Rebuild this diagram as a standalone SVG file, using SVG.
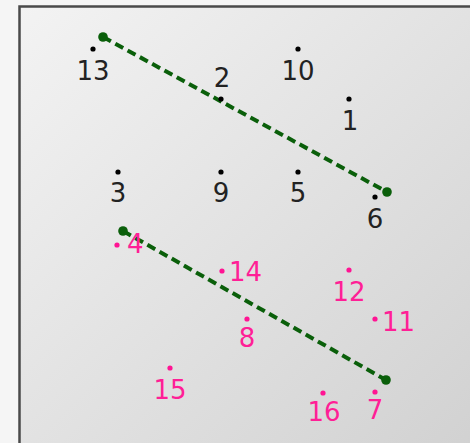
<svg xmlns="http://www.w3.org/2000/svg" width="470" height="443" viewBox="0 0 470 443">
<defs>
<linearGradient id="bg" x1="0" y1="0" x2="1" y2="1">
<stop offset="0" stop-color="#f3f3f3"/>
<stop offset="1" stop-color="#d0d0d0"/>
</linearGradient>
<style>
text{font-family:"DejaVu Sans",sans-serif;font-size:26px;}
.b circle{fill:#000;}
.b text{fill:#222;}
.p circle{fill:#ff1493;}
.p text{fill:#ff1f96;}
.c{text-anchor:middle;}
.conn line{stroke:#0a5f0a;stroke-width:4;stroke-dasharray:9 5;fill:none;}
.conn circle{fill:#0a5f0a;}
</style>
</defs>
<rect x="0" y="0" width="470" height="443" fill="#f5f5f5"/>
<rect x="19.5" y="6.5" width="470" height="460" fill="url(#bg)" stroke="#4a4a4a" stroke-width="2.5"/>
<g id="connectors" class="conn">
<line x1="103" y1="37" x2="387" y2="192"/>
<circle cx="103" cy="37" r="4.8"/>
<circle cx="387" cy="192" r="4.8"/>
<line x1="123" y1="231" x2="386" y2="380"/>
<circle cx="123" cy="231" r="4.8"/>
<circle cx="386" cy="380" r="4.8"/>
</g>
<g id="n13" class="b"><circle cx="93" cy="49" r="2.6"/><text class="c" x="93" y="80">13</text></g>
<g id="n2" class="b"><circle cx="221" cy="99" r="2.6"/><text class="c" x="222" y="87">2</text></g>
<g id="n10" class="b"><circle cx="298" cy="49" r="2.6"/><text class="c" x="298" y="80">10</text></g>
<g id="n1" class="b"><circle cx="349" cy="99" r="2.6"/><text class="c" x="350" y="130">1</text></g>
<g id="n3" class="b"><circle cx="118" cy="172" r="2.6"/><text class="c" x="118" y="202">3</text></g>
<g id="n9" class="b"><circle cx="221" cy="172" r="2.6"/><text class="c" x="221" y="202">9</text></g>
<g id="n5" class="b"><circle cx="298" cy="172" r="2.6"/><text class="c" x="298" y="202">5</text></g>
<g id="n6" class="b"><circle cx="375" cy="197" r="2.6"/><text class="c" x="375" y="228">6</text></g>
<g id="n4" class="p"><circle cx="117" cy="245" r="2.6"/><text x="127" y="253">4</text></g>
<g id="n14" class="p"><circle cx="222" cy="271" r="2.6"/><text x="229" y="281">14</text></g>
<g id="n12" class="p"><circle cx="349" cy="270" r="2.6"/><text class="c" x="349" y="301">12</text></g>
<g id="n11" class="p"><circle cx="375" cy="319" r="2.6"/><text x="382" y="331">11</text></g>
<g id="n8" class="p"><circle cx="247" cy="319" r="2.6"/><text class="c" x="247" y="347">8</text></g>
<g id="n15" class="p"><circle cx="170" cy="368" r="2.6"/><text class="c" x="170" y="399">15</text></g>
<g id="n16" class="p"><circle cx="323" cy="393" r="2.6"/><text class="c" x="324" y="421">16</text></g>
<g id="n7" class="p"><circle cx="375" cy="392" r="2.6"/><text class="c" x="375" y="419">7</text></g>
</svg>
